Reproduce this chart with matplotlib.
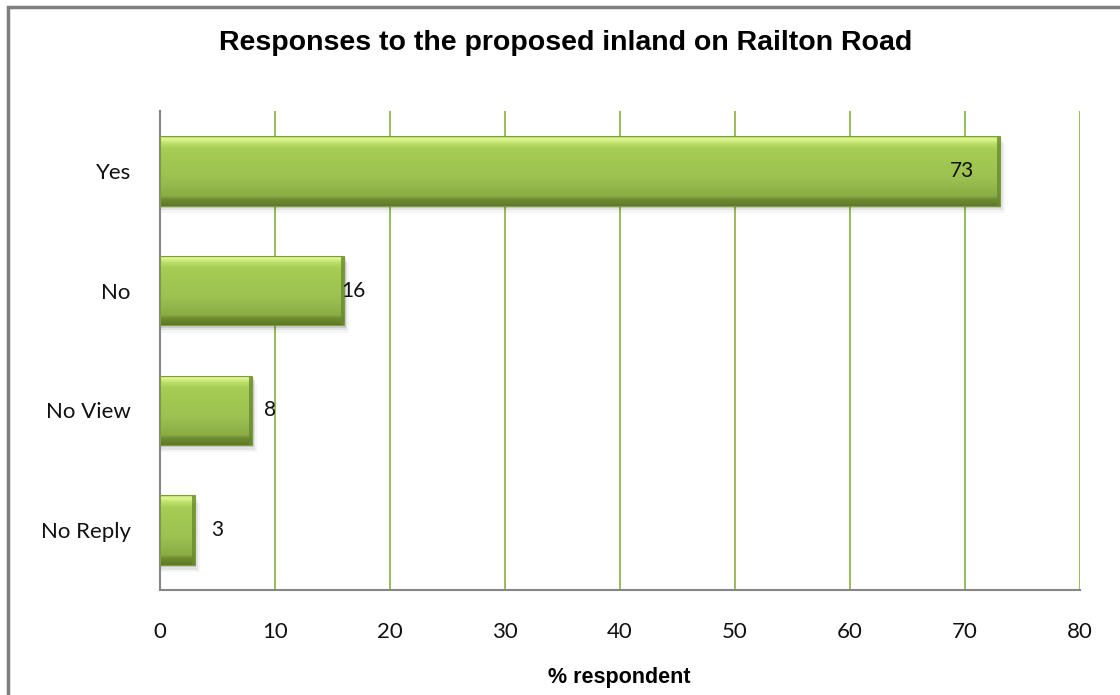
import matplotlib.pyplot as plt
import numpy as np
from matplotlib.colors import LinearSegmentedColormap
from matplotlib.patches import Rectangle

categories = ["Yes", "No", "No View", "No Reply"]
values = [73, 16, 8, 3]
ticks = [0, 10, 20, 30, 40, 50, 60, 70, 80]

W, H = 1120, 695
fig = plt.figure(figsize=(W / 100, H / 100), dpi=100)

# chart frame (runs off the right and bottom edges)
fig.patches.append(Rectangle((8 / W, -0.05), 1.2, 1 - 7 / H + 0.05, transform=fig.transFigure,
                             fill=False, edgecolor="#7f7f7f", linewidth=2.5))

ax = fig.add_axes([160 / W, 1 - 590 / H, 920 / W, 479 / H])

bars = ax.barh(range(len(categories)), values, height=0.58, color="#9bbe4c", zorder=3)

bar_cmap = LinearSegmentedColormap.from_list("bevel", [
    (0.0, "#b4d85a"), (0.04, "#e2f79b"), (0.1, "#bfe06a"), (0.18, "#a6cd55"),
    (0.6, "#9cc150"), (0.86, "#8aac44"), (0.9, "#6f8e32"), (1.0, "#5c7828")])
grad = np.linspace(0, 1, 256).reshape(-1, 1)
for b in bars:
    x0, y0, w, h = b.get_x(), b.get_y(), b.get_width(), b.get_height()
    # soft shadow below and right of the bar
    for k, a in enumerate([0.10, 0.07, 0.04]):
        ax.add_patch(Rectangle((x0, y0 + 0.02 * (k + 1)), w + 0.15 * (k + 1), h,
                               facecolor="black", alpha=a, edgecolor="none", zorder=2))
    im = ax.imshow(grad, cmap=bar_cmap, aspect="auto", extent=(x0, x0 + w, y0 + h, y0),
                   zorder=4, interpolation="bicubic")
    im.set_clip_path(b)
    # darker right end
    ax.add_patch(Rectangle((x0 + w - 0.25, y0), 0.25, h, facecolor="#6a8a2f",
                           edgecolor="none", alpha=0.8, zorder=5))
    ax.add_patch(Rectangle((x0, y0), w, h, fill=False, edgecolor="#7d9c3a",
                           linewidth=0.8, zorder=6))

ax.set_ylim(3.5, -0.5)
ax.set_xlim(0, 80)

# value labels: first inside the bar end, the rest just outside
label_offsets = [-27, 7, 13, 16.5]
for b, v, off in zip(bars, values, label_offsets):
    ax.annotate(str(v), (b.get_width(), b.get_y() + b.get_height() / 2),
                xytext=(off, 0), textcoords="offset points", ha="center", va="center",
                fontsize=15, family="Lato", color="#111111", zorder=7)

ax.set_xticks(ticks)
ax.set_yticks(range(len(categories)))
ax.set_yticklabels(categories)
ax.tick_params(axis="both", length=0, labelsize=16, colors="#111111")
ax.tick_params(axis="x", pad=23)
ax.tick_params(axis="y", pad=21)
for lab in ax.get_xticklabels() + ax.get_yticklabels():
    lab.set_family("Lato")

ax.grid(axis="x", color="#9bbb59", linewidth=1.4, zorder=0)
ax.set_axisbelow(True)
for s in ["top", "right"]:
    ax.spines[s].set_visible(False)
for s in ["left", "bottom"]:
    ax.spines[s].set_color("#868686")
    ax.spines[s].set_linewidth(1.5)

fig.text(566 / W, 1 - 43 / H, "Responses to the proposed inland on Railton Road",
         ha="center", va="center", fontsize=20.5, fontweight="bold", family="Liberation Sans")
fig.text(619 / W, 1 - 678 / H, "% respondent", ha="center", va="center",
         fontsize=15.5, fontweight="bold", family="Liberation Sans")

fig.savefig("out.png", dpi=100)
